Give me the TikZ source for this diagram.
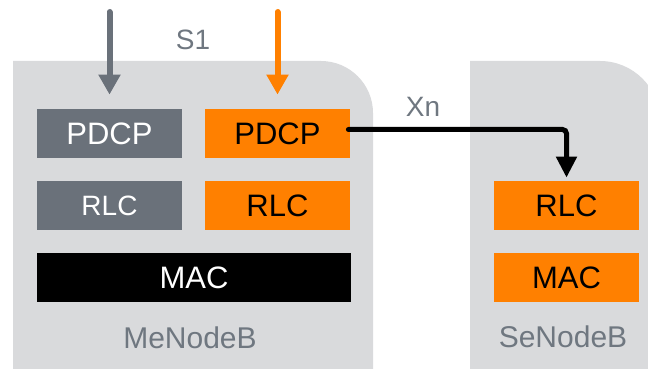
\documentclass[tikz,border=0pt]{standalone}
\usepackage{fontspec}
\setmainfont{Liberation Sans}
\usetikzlibrary{arrows.meta}
\definecolor{panel}{HTML}{D9DADC}
\definecolor{slate}{HTML}{6A717A}
\definecolor{amber}{HTML}{FF8000}
\definecolor{caption}{HTML}{6F7780}
\tikzset{
  layer/.style={inner sep=0pt, minimum width=72.5pt, minimum height=24.5pt,
    font=\fontsize{15.5}{18}\selectfont},
  graylayer/.style={layer, fill=slate, text=white},
  orangelayer/.style={layer, fill=amber, text=black},
  blacklayer/.style={layer, fill=black, text=white, minimum width=157pt},
  tag/.style={text=caption, font=\fontsize{14}{17}\selectfont, inner sep=0pt},
  feed/.style={line width=3pt, -{Triangle[width=10.5pt,length=10pt]}},
}
\begin{document}
\begin{tikzpicture}[x=0.5pt,y=-0.5pt]
  \useasboundingbox (0,0) rectangle (648,369);
  \clip (0,0) rectangle (648,369);
  % eNodeB panels
  \fill[panel] (13,369) -- (13,61) -- (321,61) arc[start angle=90,end angle=0,radius=26pt] -- (373,369) -- cycle;
  \fill[panel] (470,369) -- (470,61) -- (600,61) arc[start angle=90,end angle=0,radius=30pt] -- (660,369) -- cycle;
  % master stack
  \node[graylayer] (gpdcp) at (109.5,133.5) {PDCP};
  \node[orangelayer] (opdcp) at (277.5,133.5) {PDCP};
  \node[graylayer, font=\fontsize{14}{17}\selectfont] (grlc) at (109.5,205.5) {RLC};
  \node[orangelayer] (orlc) at (277.5,205.5) {RLC};
  \node[blacklayer] (mac) at (194,277.5) {MAC};
  \node[tag, font=\fontsize{15}{18}\selectfont] (me) at (190,338) {MeNodeB};
  % secondary stack
  \node[orangelayer] (srlc) at (566.5,205.5) {RLC};
  \node[orangelayer] (smac) at (566.5,277.5) {MAC};
  \node[tag, font=\fontsize{15}{18}\selectfont] (se) at (563,337) {SeNodeB};
  % S1 inputs
  \coordinate (gin) at (109.5,12);
  \coordinate (oin) at (277.5,12);
  \draw[feed, slate, line cap=round] (gin) -- ([yshift=7pt]gpdcp.north);
  \draw[feed, amber, line cap=round] (oin) -- ([yshift=7pt]opdcp.north);
  \node[tag] (s1) at (193,40) {S1};
  % Xn split bearer
  \draw[line width=2.5pt, line cap=round, rounded corners=2pt, -{Triangle[width=10pt,length=10.5pt]}]
    ([yshift=2pt,xshift=-1pt]opdcp.east) -| ([yshift=1.5pt]srlc.north);
  \node[tag] (xn) at (423,107) {Xn};
\end{tikzpicture}
\end{document}
